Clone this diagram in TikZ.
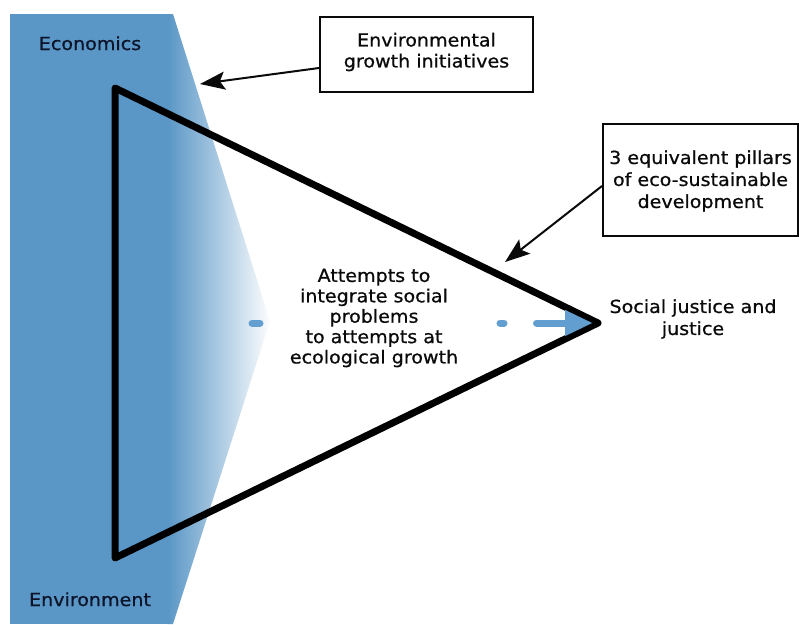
\documentclass[tikz,border=0pt]{standalone}
\usepackage{fontspec}
\setmainfont{DejaVu Sans}[FakeStretch=1.06,FakeBold=0.7]
\usetikzlibrary{arrows.meta}
\definecolor{bandblue}{RGB}{90,150,198}
\definecolor{dashblue}{RGB}{98,158,208}
\definecolor{navy}{RGB}{12,20,42}
\definecolor{ink}{RGB}{10,10,10}
\begin{document}
\begin{tikzpicture}[x=1pt,y=-1pt,
  lbl/.style={font=\fontsize{18}{21}\selectfont, text=ink, align=center, inner sep=0pt},
  corner/.style={lbl, text=navy},
  boxed/.style={lbl, draw=ink, line width=2pt, fill=white},
  pointer/.style={draw=ink, line width=2pt, -{Stealth[length=25pt,width=18pt,inset=5pt]}},
  tri/.style={draw=black, line width=7pt, line join=round},
  flow/.style={draw=dashblue, line width=7pt, line cap=round,
    dash pattern=on 8pt off 240pt on 4pt off 32.5pt on 200pt,
    -{Triangle[length=28pt,width=24pt]}}]
\useasboundingbox (0,0) rectangle (799,624);
\fill[white] (0,0) rectangle (799,624);
% blue band with fading wedge
\begin{scope}
  \clip (10,14) -- (173,14) -- (270,321) -- (173,624) -- (10,624) -- cycle;
  \fill[bandblue] (0,0) rectangle (168,624);
  \shade[left color=bandblue, right color=white] (167.5,0) rectangle (272,624);
\end{scope}
% triangle
\coordinate (top) at (115,88);
\coordinate (bot) at (115,558);
\coordinate (tip) at (598,323);
\draw[tri] (top) -- (bot) -- (tip) -- cycle;
% labels
\node[corner, anchor=base] (econ) at (90,50) {Economics};
\node[corner, anchor=base] (envi) at (90,606) {Environment};
\node[boxed, minimum width=213pt, minimum height=75pt] (egi) at (426.5,54.5) {};
\node[lbl] (egitext) at (426.5,52) {Environmental\\growth initiatives};
\node[boxed, minimum width=195pt, minimum height=112pt] (pil) at (700.5,180) {};
\node[lbl, font=\fontsize{18}{22}\selectfont] (piltext) at (700.5,181) {3 equivalent pillars\\of eco-sustainable\\development};
\node[lbl, font=\fontsize{18}{20.4}\selectfont] (mid) at (374,318) {Attempts to\\integrate social\\problems\\to attempts at\\ecological growth};
\node[lbl, font=\fontsize{18}{22}\selectfont] (soc) at (693,319) {Social justice and\\justice};
% connectors
\coordinate (egiend) at (200,84);
\coordinate (pilend) at (505,262);
\coordinate (flowstart) at (252,323);
\draw[pointer] (egi.west |- 0,68) -- (egiend);
\draw[pointer] (pil.west |- 0,186) -- (pilend);
\draw[flow, shorten >=5pt] (flowstart) -- (tip);
\end{tikzpicture}
\end{document}
